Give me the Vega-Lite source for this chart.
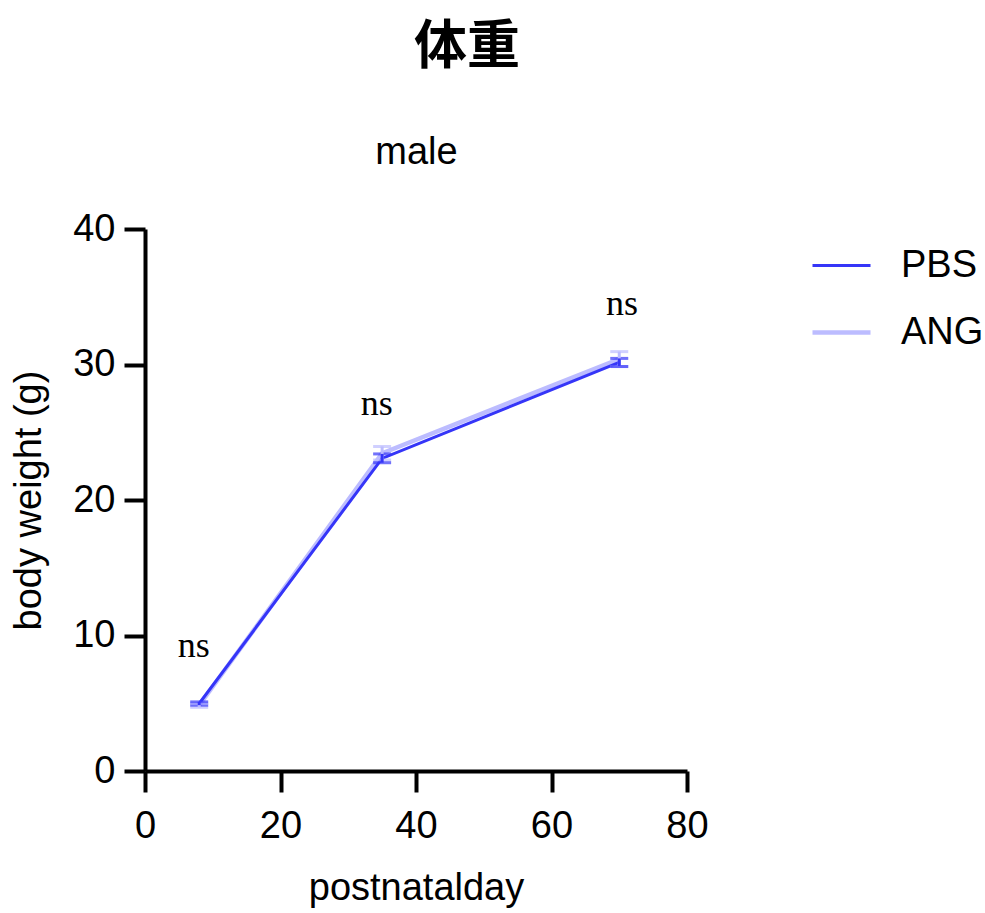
{
  "$schema": "https://vega.github.io/schema/vega-lite/v6.json",
  "width": 542,
  "height": 542,
  "autosize": {"type": "none"},
  "padding": {"left": 145, "top": 229, "right": 298, "bottom": 142},
  "background": "white",
  "title": {
    "text": "体重",
    "font": "Noto Sans CJK SC",
    "fontSize": 53,
    "fontWeight": "bold",
    "anchor": "middle",
    "dx": 51,
    "offset": 58,
    "color": "black"
  },
  "datasets": {
    "weights": [
      {"group": "ANG", "day": 8, "mean": 4.85, "lower": 4.7, "upper": 5.0},
      {"group": "ANG", "day": 35, "mean": 23.45, "lower": 22.95, "upper": 23.95},
      {"group": "ANG", "day": 70, "mean": 30.4, "lower": 29.85, "upper": 30.95},
      {"group": "PBS", "day": 8, "mean": 4.98, "lower": 4.86, "upper": 5.1},
      {"group": "PBS", "day": 35, "mean": 23.07, "lower": 22.75, "upper": 23.4},
      {"group": "PBS", "day": 70, "mean": 30.15, "lower": 29.85, "upper": 30.45}
    ],
    "stats": [
      {"day": 7.2, "y": 8.43, "label": "ns"},
      {"day": 34.2, "y": 26.3, "label": "ns"},
      {"day": 70.4, "y": 33.65, "label": "ns"}
    ]
  },
  "layer": [
    {
      "data": {"name": "weights"},
      "mark": {"type": "line"},
      "encoding": {
        "x": {
          "field": "day",
          "type": "quantitative",
          "scale": {"domain": [0, 80], "nice": false, "zero": false},
          "axis": {
            "orient": "bottom",
            "title": "postnatalday",
            "values": [0, 20, 40, 60, 80],
            "labelFlush": false,
            "labelPadding": 15,
            "titlePadding": 24
          }
        },
        "y": {
          "field": "mean",
          "type": "quantitative",
          "scale": {"domain": [0, 40], "nice": false},
          "axis": {
            "title": "body weight (g)",
            "values": [0, 10, 20, 30, 40],
            "labelFlush": false,
            "labelPadding": 9,
            "titlePadding": 24
          }
        },
        "color": {
          "field": "group",
          "type": "nominal",
          "sort": ["PBS", "ANG"],
          "scale": {"domain": ["PBS", "ANG"], "range": ["#3535f8", "#bcbcff"]},
          "legend": {
            "title": null,
            "orient": "none",
            "legendX": 665,
            "legendY": 6,
            "labelFont": "Liberation Sans",
            "labelFontSize": 38,
            "labelColor": "black",
            "symbolType": "stroke",
            "symbolSize": 3364,
            "symbolStrokeWidth": 3,
            "rowPadding": 16,
            "labelOffset": 28
          }
        },
        "order": {"field": "day", "type": "quantitative"},
        "strokeWidth": {
          "field": "group",
          "type": "nominal",
          "scale": {"domain": ["PBS", "ANG"], "range": [3, 4.5]},
          "legend": null
        }
      }
    },
    {
      "data": {"name": "weights"},
      "mark": {"type": "errorbar", "ticks": {"size": 18}, "thickness": 3},
      "encoding": {
        "x": {"field": "day", "type": "quantitative", "axis": null},
        "y": {"field": "lower", "type": "quantitative", "axis": null},
        "y2": {"field": "upper"},
        "color": {"field": "group", "type": "nominal", "legend": null}
      }
    },
    {
      "data": {"name": "stats"},
      "mark": {"type": "text", "font": "Liberation Serif", "fontSize": 36, "baseline": "alphabetic", "align": "center", "color": "black"},
      "encoding": {
        "x": {
          "field": "day",
          "type": "quantitative",
          "axis": {
            "orient": "top",
            "title": "male",
            "labels": false,
            "ticks": false,
            "domain": false,
            "titleBaseline": "alphabetic",
            "titlePadding": 66
          }
        },
        "y": {"field": "y", "type": "quantitative", "axis": null},
        "text": {"field": "label"}
      }
    }
  ],
  "resolve": {"axis": {"x": "independent", "y": "independent"}},
  "config": {
    "view": {"stroke": null},
    "axis": {
      "grid": false,
      "domainColor": "black",
      "domainWidth": 4,
      "tickColor": "black",
      "tickWidth": 4,
      "tickSize": 21,
      "labelColor": "black",
      "labelFont": "Liberation Sans",
      "labelFontSize": 38,
      "titleColor": "black",
      "titleFont": "Liberation Sans",
      "titleFontSize": 38,
      "titleFontWeight": "normal"
    }
  }
}
